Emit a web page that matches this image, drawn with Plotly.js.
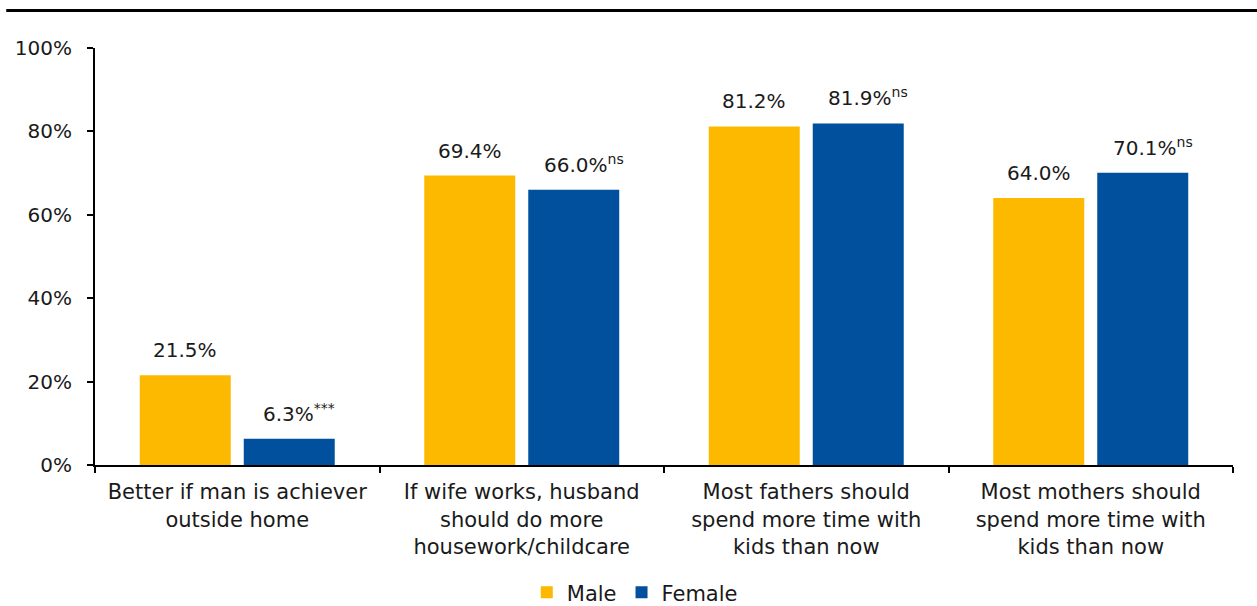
<!DOCTYPE html>
<html><head><meta charset="utf-8">
<script src="https://cdn.plot.ly/plotly-3.0.1.min.js"></script>
<style>html,body{margin:0;padding:0;background:#fff}#chart{width:1257px;height:606px}</style>
</head><body><div id="chart"></div>
<script>
const categories = [
  "Better if man is achiever<br>outside home",
  "If wife works, husband<br>should do more<br>housework/childcare",
  "Most fathers should<br>spend more time with<br>kids than now",
  "Most mothers should<br>spend more time with<br>kids than now"
];
const maleValues = [21.5, 69.4, 81.2, 64.0];
const femaleValues = [6.3, 66.0, 81.9, 70.1];
const femaleSig = ["***", "ns", "ns", "ns"];
const seriesNames = ["Male", "Female"];
const colors = ["#FDB800", "#00509D"];
const yTicks = [0, 20, 40, 60, 80, 100];

const FONT = "DejaVu Sans, sans-serif";
const textColor = "#1a1a1a";

const traces = [
  {type: "bar", name: seriesNames[0], x: categories, y: maleValues,
   marker: {color: colors[0]}, hoverinfo: "skip"},
  {type: "bar", name: seriesNames[1], x: categories, y: femaleValues,
   marker: {color: colors[1]}, hoverinfo: "skip"}
];

const annotations = [];
categories.forEach((c, i) => {
  annotations.push({x: c, y: maleValues[i], xref: "x", yref: "y", xshift: -52, yshift: 11,
    yanchor: "bottom", showarrow: false, text: maleValues[i].toFixed(1) + "%",
    font: {family: FONT, size: 20, color: textColor}});
  annotations.push({x: c, y: femaleValues[i], xref: "x", yref: "y", xshift: 52 + 10, yshift: 11,
    yanchor: "bottom", showarrow: false,
    text: femaleValues[i].toFixed(1) + "%<sup>" + femaleSig[i] + "</sup>",
    font: {family: FONT, size: 20, color: textColor}});
});

const layout = {
  width: 1257, height: 606,
  margin: {l: 95, r: 24, t: 48, b: 141},
  paper_bgcolor: "#fff", plot_bgcolor: "#fff",
  barmode: "group", bargap: 0.269, bargroupgap: 0.125,
  showlegend: true,
  legend: {orientation: "h", xref: "container", x: 0.505, xanchor: "center",
    yref: "container", y: 0.022, yanchor: "middle",
    font: {family: FONT, size: 21, color: textColor}, itemwidth: 30, traceorder: "normal"},
  xaxis: {type: "category", tickson: "boundaries", ticks: "outside", ticklen: 6, tickwidth: 2,
    tickcolor: "#000", showline: true, linecolor: "#000", linewidth: 2, ticklabelstandoff: 7,
    tickfont: {family: FONT, size: 21, color: textColor}, showgrid: false, fixedrange: true},
  yaxis: {range: [0, 100], tickvals: yTicks, ticktext: yTicks.map(v => v + "%"),
    ticks: "outside", ticklen: 6, tickwidth: 2, tickcolor: "#000", ticklabelstandoff: 11,
    showline: true, linecolor: "#000", linewidth: 2, showgrid: false, zeroline: false,
    tickfont: {family: FONT, size: 20, color: textColor}, fixedrange: true},
  shapes: [{type: "line", xref: "paper", yref: "paper", x0: -0.078, x1: 1.03, y0: 1.09, y1: 1.09,
    line: {color: "#000", width: 3}}],
  annotations: annotations
};

Plotly.newPlot("chart", traces, layout, {displayModeBar: false, staticPlot: true});
</script></body></html>
